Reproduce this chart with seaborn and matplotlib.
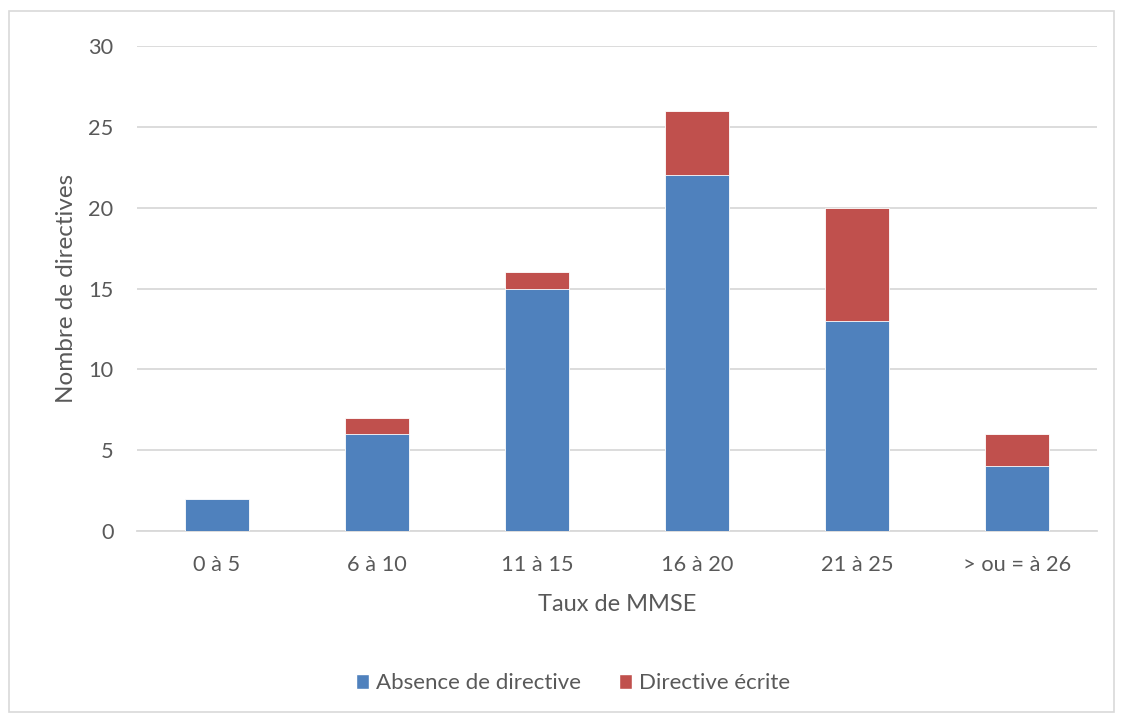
import matplotlib
matplotlib.use("Agg")
import matplotlib.pyplot as plt
from matplotlib.patches import Rectangle, Patch
import seaborn as sns
import pandas as pd

categories = ["0 à 5", "6 à 10", "11 à 15", "16 à 20", "21 à 25", "> ou = à 26"]
absence = [2, 6, 15, 22, 13, 4]
ecrite = [0, 1, 1, 4, 7, 2]

sns.set_theme(style="white")
plt.rcParams["font.family"] = ["Lato", "DejaVu Sans"]

TEXT = "#595959"
GRID = "#D9D9D9"
BLUE = "#4F81BD"
RED = "#C0504D"

df = pd.DataFrame({"cat": categories, "absence": absence, "ecrite": ecrite})
df["total"] = df["absence"] + df["ecrite"]

fig = plt.figure(figsize=(11.23, 7.2), dpi=100)
ax = fig.add_axes([0.122, 0.2625, 0.855, 0.6735])

# stacked bars: total in red, lower part in blue on top of it
sns.barplot(data=df, x="cat", y="total", color=RED, saturation=1, width=0.4,
            ax=ax, zorder=3, edgecolor="white", linewidth=0.6)
sns.barplot(data=df, x="cat", y="absence", color=BLUE, saturation=1, width=0.4,
            ax=ax, zorder=4, edgecolor="white", linewidth=0.6)

ax.set_xlim(-0.5, 5.5)
ax.set_ylim(0, 30)
ax.set_yticks(range(0, 31, 5))
ax.yaxis.grid(True, color=GRID, linewidth=1.3, zorder=0)
ax.set_axisbelow(True)
for s in ["top", "right", "left"]:
    ax.spines[s].set_visible(False)
ax.spines["bottom"].set_color(GRID)
ax.spines["bottom"].set_linewidth(1.3)
ax.tick_params(axis="both", length=0, colors=TEXT, labelsize=15.7)
ax.tick_params(axis="y", pad=17)
ax.tick_params(axis="x", pad=17)
ax.set_xlabel("Taux de MMSE", color=TEXT, fontsize=17, labelpad=14)
ax.set_ylabel("Nombre de directives", color=TEXT, fontsize=17.5, labelpad=8)

handles = [Patch(facecolor=BLUE, label="Absence de directive"),
           Patch(facecolor=RED, label="Directive écrite")]
leg = fig.legend(handles=handles, loc="center", bbox_to_anchor=(0.51, 0.051),
                 ncol=2, frameon=False, fontsize=16, handlelength=0.6,
                 handleheight=0.6, handletextpad=0.3, columnspacing=1.7)
for t in leg.get_texts():
    t.set_color(TEXT)

# outer chart frame
fig.patches.append(Rectangle((9 / 1123, 1 - 712 / 720), 1105 / 1123, 701 / 720,
                             transform=fig.transFigure, fill=False,
                             edgecolor="#D9D9D9", linewidth=1.2))

fig.savefig("out.png", dpi=100)
